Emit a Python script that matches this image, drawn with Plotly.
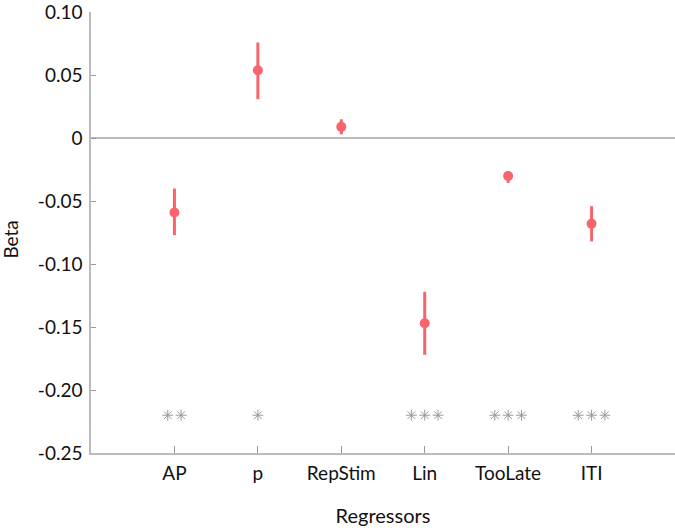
import plotly.graph_objects as go

categories = ["AP", "p", "RepStim", "Lin", "TooLate", "ITI"]
beta = [-0.059, 0.054, 0.009, -0.147, -0.030, -0.068]
ci_low = [-0.077, 0.031, 0.003, -0.172, -0.0355, -0.082]
ci_high = [-0.040, 0.076, 0.015, -0.122, -0.027, -0.054]
stars = [2, 1, 0, 3, 3, 3]
star_y = -0.22

ytick_vals = [0.10, 0.05, 0, -0.05, -0.10, -0.15, -0.20, -0.25]
ytick_text = ["0.10", "0.05", "0", "-0.05", "-0.10", "-0.15", "-0.20", "-0.25"]

xpos = list(range(1, len(categories) + 1))
red = "#f7646b"
font = "Lato, 'Open Sans', sans-serif"

fig = go.Figure()

fig.add_trace(go.Scatter(
    x=xpos, y=beta, mode="markers",
    marker=dict(color=red, size=10),
    error_y=dict(type="data", symmetric=False,
                 array=[h - b for h, b in zip(ci_high, beta)],
                 arrayminus=[b - l for b, l in zip(beta, ci_low)],
                 color=red, thickness=3, width=0),
    showlegend=False, hoverinfo="skip", cliponaxis=False,
))

sx, sy = [], []
step = 0.16
for x, n in zip(xpos, stars):
    for k in range(n):
        sx.append(x + (k - (n - 1) / 2) * step)
        sy.append(star_y)
fig.add_trace(go.Scatter(
    x=sx, y=sy, mode="markers",
    marker=dict(symbol="asterisk-open", size=9, color="#999999",
                line=dict(width=1, color="#999999")),
    showlegend=False, hoverinfo="skip",
))

fig.add_annotation(text="Beta", textangle=-90, xref="paper", yref="paper",
                   x=-0.137, y=0.484, xanchor="center", yanchor="middle",
                   showarrow=False, font=dict(size=19))

fig.update_layout(
    width=675, height=528,
    margin=dict(l=91, r=0, t=12, b=75, autoexpand=False),
    plot_bgcolor="white", paper_bgcolor="white",
    font=dict(family=font, size=19, color="#111111"),
    xaxis=dict(range=[0, 7], tickvals=xpos, ticktext=categories,
               automargin=False,
               showgrid=False, zeroline=False, showline=True,
               linecolor="#bbbbbb", linewidth=1.5,
               ticks="inside", ticklen=7, tickcolor="#999999", tickwidth=1,
               ticklabelstandoff=2,
               title=dict(text="Regressors", standoff=26,
                          font=dict(size=20))),
    yaxis=dict(range=[-0.25, 0.1002], tickvals=ytick_vals, ticktext=ytick_text,
               automargin=False, ticklabeloverflow="allow",
               showgrid=False, zeroline=True, zerolinecolor="#bbbbbb",
               zerolinewidth=1.5, showline=True,
               linecolor="#bbbbbb", linewidth=1.5,
               ticks="inside", ticklen=5, tickcolor="#999999", tickwidth=1,
               ticklabelstandoff=3),
)

fig.write_html("out.html", config={"displayModeBar": False},
               post_script="document.body.style.margin='0';document.body.style.overflow='hidden';")
